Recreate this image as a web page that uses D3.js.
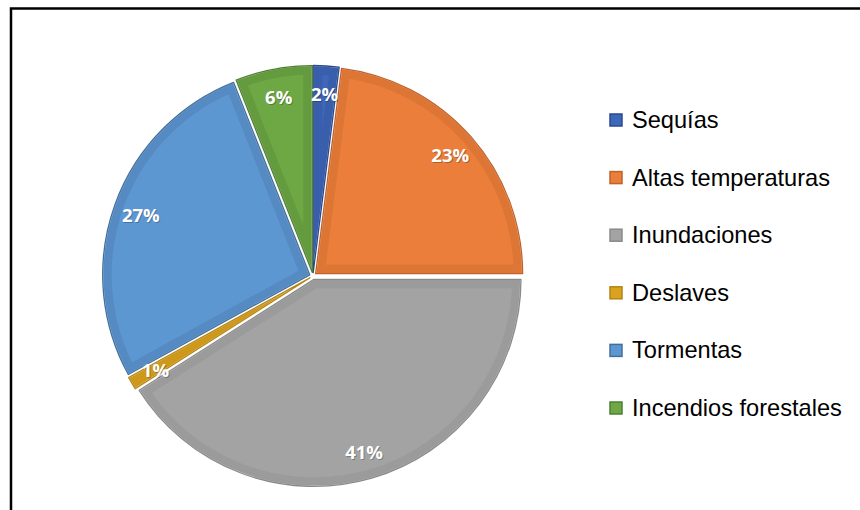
<!DOCTYPE html>
<html><head><meta charset="utf-8">
<script src="https://cdn.jsdelivr.net/npm/d3@7"></script>
<style>html,body{margin:0;padding:0;background:#fff;}svg{display:block;}</style>
</head><body>
<svg id="chart" width="860" height="510"></svg>
<script>
const categories = ["Sequías","Altas temperaturas","Inundaciones","Deslaves","Tormentas","Incendios forestales"];
const values = [2, 23, 41, 1, 27, 6];
const labels = ["2%","23%","41%","1%","27%","6%"];
const colors = ["#3f67b9","#ea7e3a","#a3a3a3","#d9a21f","#5d97d2","#6ea845"];
const edgeColors = ["#2a4a8f","#c0632a","#8a8a8a","#b58514","#41709f","#4f7f30"];

const svg = d3.select("#chart");
const W = 860, H = 510;
svg.append("rect").attr("x",0).attr("y",0).attr("width",W).attr("height",H).attr("fill","#fff");
// frame
svg.append("rect").attr("x",11).attr("y",8.5).attr("width",1000).attr("height",1000)
  .attr("fill","none").attr("stroke","#000").attr("stroke-width",2.5);

const cx = 313, cy = 276, R = 207, explode = 3.5;
const pie = d3.pie().sort(null).value(d => d);
const arcs = pie(values);
const arc = d3.arc().innerRadius(0).outerRadius(R);
const labelArc = d3.arc().innerRadius(183).outerRadius(183);

const defs = svg.append("defs");
const g = svg.append("g").attr("transform", `translate(${cx},${cy})`);

arcs.forEach((a, i) => {
  const mid = (a.startAngle + a.endAngle) / 2;
  const dx = explode * Math.sin(mid), dy = -explode * Math.cos(mid);
  const sg = g.append("g").attr("transform", `translate(${dx},${dy})`);
  const id = "clip" + i;
  defs.append("clipPath").attr("id", id).append("path").attr("d", arc(a)).attr("transform", `translate(${cx+dx},${cy+dy})`);
  sg.append("path").attr("d", arc(a)).attr("fill", colors[i]).attr("stroke","#fff").attr("stroke-width",1.5);
  // inner bevel band
  svg.append("g").attr("clip-path", `url(#${id})`)
    .append("path").attr("d", arc(a)).attr("transform", `translate(${cx+dx},${cy+dy})`)
    .attr("fill","none").attr("stroke", edgeColors[i]).attr("stroke-opacity",0.3).attr("stroke-width",18)
    .attr("stroke-linejoin","round");
  svg.append("path").attr("d", arc(a)).attr("transform", `translate(${cx+dx},${cy+dy})`)
    .attr("fill","none").attr("stroke", edgeColors[i]).attr("stroke-width",1.3)
    .attr("stroke-linejoin","round");
});

// labels
const lg = svg.append("g").attr("transform", `translate(${cx},${cy})`);
arcs.forEach((a, i) => {
  const [x, y] = labelArc.centroid(a);
  lg.append("text").attr("x", x+1).attr("y", y+1).attr("text-anchor","middle").attr("dominant-baseline","central")
    .attr("font-family","'Open Sans', 'Liberation Sans', Arial, sans-serif").attr("font-weight","bold").attr("font-size",18.5)
    .attr("fill","rgba(0,0,0,0.25)").text(labels[i]);
  lg.append("text").attr("x", x).attr("y", y).attr("text-anchor","middle").attr("dominant-baseline","central")
    .attr("font-family","'Open Sans', 'Liberation Sans', Arial, sans-serif").attr("font-weight","bold").attr("font-size",18.5)
    .attr("fill","#fff").text(labels[i]);
});

// legend
const legendY = d3.scalePoint().domain(categories).range([120, 408]);
const leg = svg.append("g");
categories.forEach((c, i) => {
  const y = legendY(c);
  leg.append("rect").attr("x", 610).attr("y", y-6).attr("width",12).attr("height",12)
    .attr("fill", colors[i]).attr("stroke", edgeColors[i]).attr("stroke-width",1.5);
  leg.append("text").attr("x", 632).attr("y", y).attr("dominant-baseline","central")
    .attr("font-family","'Liberation Sans', Arial, sans-serif").attr("font-size",23.6).attr("fill","#000").text(c);
});
</script>
</body></html>
